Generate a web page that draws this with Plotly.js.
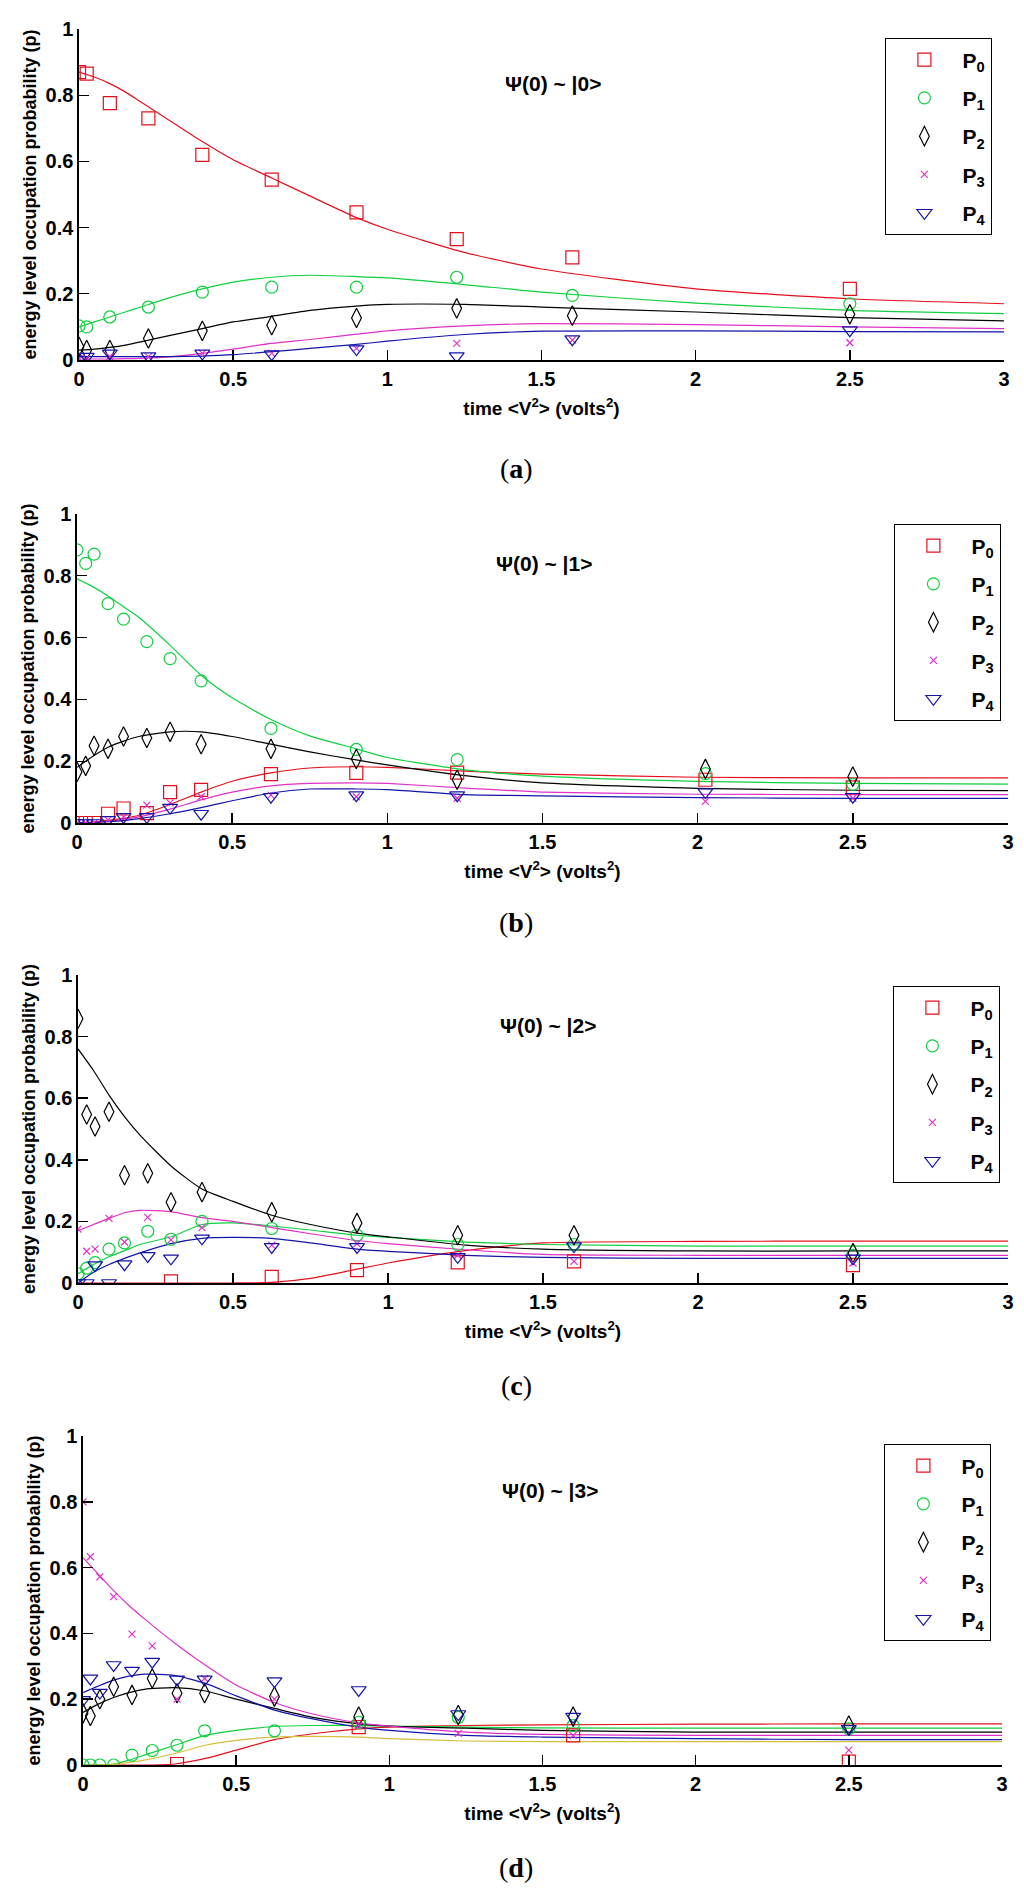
<!DOCTYPE html>
<html>
<head>
<meta charset="utf-8">
<script src="https://cdn.plot.ly/plotly-3.0.1.min.js"></script>
<style>
  html, body { margin: 0; padding: 0; background: #fff; }
  #chart { width: 1024px; height: 1898px; }
</style>
</head>
<body>
<div id="chart"></div>
<script>
// level names and colours
const levelNames = ['P<sub>0</sub>', 'P<sub>1</sub>', 'P<sub>2</sub>', 'P<sub>3</sub>', 'P<sub>4</sub>'];
const panelTags = ['a', 'b', 'c', 'd'];
const stateLabels = ['Ψ(0) ~ |0&gt;', 'Ψ(0) ~ |1&gt;', 'Ψ(0) ~ |2&gt;', 'Ψ(0) ~ |3&gt;'];

// fitted curves are sampled at these times
const curveX = [0, 0.05, 0.1, 0.15, 0.2, 0.3, 0.4, 0.5, 0.625, 0.75, 0.9, 1.0, 1.25, 1.5, 2, 2.5, 3];

// panel (a)  Psi(0) ~ |0>
const xA = [0, 0.025, 0.1, 0.225, 0.4, 0.625, 0.9, 1.225, 1.6, 2.5];
const p0A = [0.87, 0.865, 0.776, 0.73, 0.62, 0.545, 0.446, 0.365, 0.31, 0.215];
const p1A = [0.103, 0.10, 0.13, 0.16, 0.205, 0.22, 0.22, 0.25, 0.195, 0.17];
const p2A = [0.04, 0.03, 0.03, 0.065, 0.088, 0.105, 0.127, 0.156, 0.134, 0.138];
const p3A = [0.005, 0.005, 0.01, 0.01, 0.02, 0.02, 0.035, 0.05, 0.06, 0.052];
const p4A = [0.0, 0.01, 0.02, 0.012, 0.02, 0.018, 0.033, 0.012, 0.063, 0.09];
const fit0A = [0.87, 0.855, 0.835, 0.81, 0.78, 0.72, 0.66, 0.605, 0.55, 0.495, 0.43, 0.395, 0.325, 0.275, 0.215, 0.185, 0.17];
const fit1A = [0.1, 0.115, 0.13, 0.145, 0.16, 0.19, 0.215, 0.235, 0.25, 0.256, 0.252, 0.248, 0.228, 0.205, 0.172, 0.15, 0.14];
const fit2A = [0.03, 0.033, 0.038, 0.045, 0.055, 0.075, 0.095, 0.115, 0.132, 0.15, 0.163, 0.168, 0.168, 0.16, 0.145, 0.128, 0.118];
const fit3A = [0.003, 0.003, 0.003, 0.004, 0.005, 0.01, 0.02, 0.033, 0.05, 0.062, 0.078, 0.088, 0.103, 0.11, 0.107, 0.1, 0.095];
const fit4A = [0.01, 0.01, 0.01, 0.01, 0.01, 0.01, 0.012, 0.016, 0.025, 0.035, 0.047, 0.057, 0.077, 0.087, 0.088, 0.086, 0.085];

// panel (b)  Psi(0) ~ |1>
const xB = [0, 0.028, 0.055, 0.1, 0.15, 0.225, 0.3, 0.4, 0.625, 0.9, 1.225, 2.025, 2.5];
const p0B = [0, 0, 0, 0.03, 0.047, 0.032, 0.10, 0.107, 0.158, 0.162, 0.163, 0.14, 0.115];
const p1B = [0.884, 0.84, 0.87, 0.71, 0.66, 0.587, 0.532, 0.46, 0.306, 0.238, 0.205, 0.16, 0.125];
const p2B = [0.165, 0.185, 0.25, 0.24, 0.28, 0.275, 0.295, 0.255, 0.24, 0.207, 0.14, 0.175, 0.15];
const p3B = [0, 0, 0, 0.01, 0.02, 0.058, 0.065, 0.085, 0.09, 0.085, 0.08, 0.07, 0.08];
const p4B = [0, 0, 0, 0.01, 0.02, 0.02, 0.05, 0.03, 0.085, 0.09, 0.09, 0.10, 0.085];
const fit0B = [0, 0.003, 0.008, 0.015, 0.025, 0.06, 0.1, 0.135, 0.162, 0.178, 0.182, 0.18, 0.168, 0.158, 0.148, 0.146, 0.146];
const fit1B = [0.79, 0.765, 0.735, 0.7, 0.665, 0.575, 0.478, 0.405, 0.335, 0.282, 0.24, 0.212, 0.172, 0.152, 0.135, 0.128, 0.126];
const fit2B = [0.18, 0.215, 0.245, 0.265, 0.28, 0.295, 0.295, 0.28, 0.255, 0.23, 0.204, 0.188, 0.153, 0.13, 0.112, 0.106, 0.105];
const fit3B = [0, 0.002, 0.006, 0.012, 0.02, 0.045, 0.075, 0.1, 0.12, 0.128, 0.13, 0.128, 0.113, 0.1, 0.093, 0.092, 0.092];
const fit4B = [0, 0.001, 0.004, 0.008, 0.014, 0.03, 0.05, 0.072, 0.097, 0.11, 0.11, 0.108, 0.092, 0.088, 0.082, 0.08, 0.08];

// panel (c)  Psi(0) ~ |2>
const xC = [0, 0.028, 0.055, 0.1, 0.15, 0.225, 0.3, 0.4, 0.625, 0.9, 1.225, 1.6, 2.5];
const p0C = [null, null, null, null, null, null, 0.005, null, 0.02, 0.042, 0.067, 0.07, 0.058];
const p1C = [0.03, 0.048, 0.066, 0.11, 0.13, 0.168, 0.142, 0.2, 0.177, 0.155, 0.125, 0.125, 0.09];
const p2C = [0.858, 0.547, 0.508, 0.556, 0.35, 0.356, 0.262, 0.295, 0.23, 0.195, 0.155, 0.155, 0.097];
const p3C = [0.175, 0.103, 0.11, 0.21, 0.133, 0.213, 0.14, 0.18, 0.123, 0.128, 0.09, 0.07, 0.065];
const p4C = [0, 0, 0.058, 0, 0.061, 0.088, 0.08, 0.145, 0.117, 0.117, 0.085, 0.12, 0.08];
const fit0C = [0, 0, 0, 0, 0, 0, 0, 0, 0.002, 0.015, 0.045, 0.065, 0.105, 0.13, 0.135, 0.136, 0.136];
const fit1C = [0.03, 0.06, 0.085, 0.105, 0.125, 0.15, 0.19, 0.195, 0.185, 0.172, 0.155, 0.148, 0.133, 0.125, 0.12, 0.12, 0.12];
const fit2C = [0.76, 0.69, 0.61, 0.54, 0.48, 0.38, 0.305, 0.265, 0.22, 0.19, 0.162, 0.15, 0.123, 0.11, 0.104, 0.104, 0.104];
const fit3C = [0.17, 0.19, 0.21, 0.228, 0.236, 0.232, 0.212, 0.2, 0.18, 0.16, 0.138, 0.128, 0.108, 0.093, 0.09, 0.09, 0.09];
const fit4C = [0, 0.035, 0.06, 0.08, 0.098, 0.128, 0.145, 0.148, 0.145, 0.13, 0.11, 0.103, 0.09, 0.083, 0.08, 0.08, 0.08];

// panel (d)  Psi(0) ~ |3>
const xD = [0, 0.024, 0.055, 0.1, 0.16, 0.226, 0.307, 0.397, 0.625, 0.9, 1.225, 1.6, 2.5];
const p0D = [null, null, null, null, null, null, 0.003, null, null, 0.115, null, 0.09, 0.01];
const p1D = [0, 0, 0, 0, 0.03, 0.044, 0.06, 0.104, 0.104, 0.13, 0.145, 0.12, 0.11];
const p2D = [0.157, 0.149, 0.2, 0.238, 0.213, 0.263, 0.218, 0.218, 0.208, 0.147, 0.152, 0.147, 0.12];
const p3D = [0.80, 0.633, 0.572, 0.512, 0.398, 0.362, 0.2, 0.263, 0.2, 0.12, 0.096, 0.09, 0.045];
const p4D = [0.198, 0.263, 0.22, 0.304, 0.287, 0.314, 0.26, 0.26, 0.255, 0.228, 0.155, 0.147, 0.11];
const fit0D = [0, 0, 0, 0, 0, 0.003, 0.02, 0.045, 0.077, 0.095, 0.11, 0.115, 0.12, 0.122, 0.124, 0.125, 0.125];
const fit1D = [0, 0, 0.003, 0.015, 0.03, 0.06, 0.09, 0.105, 0.117, 0.12, 0.12, 0.118, 0.115, 0.113, 0.112, 0.112, 0.112];
const fit2D = [0.16, 0.185, 0.205, 0.22, 0.23, 0.235, 0.225, 0.2, 0.172, 0.145, 0.125, 0.118, 0.112, 0.105, 0.1, 0.1, 0.1];
const fit3D = [0.63, 0.58, 0.53, 0.485, 0.445, 0.37, 0.303, 0.243, 0.19, 0.155, 0.128, 0.118, 0.1, 0.093, 0.09, 0.09, 0.09];
const fit4D = [0.22, 0.24, 0.258, 0.27, 0.276, 0.272, 0.248, 0.21, 0.167, 0.14, 0.115, 0.105, 0.09, 0.085, 0.08, 0.077, 0.077];
const fitExtraD = [0, 0, 0.002, 0.008, 0.015, 0.035, 0.06, 0.075, 0.085, 0.087, 0.085, 0.08, 0.073, 0.071, 0.071, 0.071, 0.071];

const colors = ['#e3101c', '#10d040', '#000000', '#e030c8', '#1414a8'];
const extraColor = '#d6bf3a';
const symbols = ['square-open', 'circle-open', 'diamond-tall-open', 'x-thin-open', 'triangle-down-open'];
const sizes = [13, 12, 14, 7, 13];

const panels = [
    { x: xA, p: [p0A, p1A, p2A, p3A, p4A], fit: [fit0A, fit1A, fit2A, fit3A, fit4A] },
    { x: xB, p: [p0B, p1B, p2B, p3B, p4B], fit: [fit0B, fit1B, fit2B, fit3B, fit4B] },
    { x: xC, p: [p0C, p1C, p2C, p3C, p4C], fit: [fit0C, fit1C, fit2C, fit3C, fit4C] },
    { x: xD, p: [p0D, p1D, p2D, p3D, p4D], fit: [fit0D, fit1D, fit2D, fit3D, fit4D], extra: fitExtraD }
];

// pixel boxes of the four plot areas: [left, right, top, bottom]
const W = 1024, H = 1898;
const boxes = [
    [79, 1004, 29, 360],
    [77, 1008, 514, 823],
    [78, 1008, 975, 1283],
    [83, 1002, 1436, 1765]
];
const legendPos = [[885, 38], [894, 524], [893, 986], [884, 1444]];
const statePos = [[503, 83], [494, 563], [498, 1025], [500, 1490]];
const tagY = [468, 923, 1385, 1867];

const sansBold = { family: 'Liberation Sans, Arial, sans-serif', size: 20, color: '#000', weight: 'bold' };

const traces = [];
const layout = {
    width: W, height: H,
    margin: { l: 0, r: 0, t: 0, b: 0 },
    paper_bgcolor: '#fff',
    plot_bgcolor: 'rgba(0,0,0,0)',
    showlegend: true,
    annotations: []
};

panels.forEach((pan, i) => {
    const n = i === 0 ? '' : String(i + 1);
    const xa = 'x' + n, ya = 'y' + n;
    const leg = 'legend' + n;

    // fitted curves
    pan.fit.forEach((f, k) => {
        traces.push({
            type: 'scatter', mode: 'lines', x: curveX, y: f,
            xaxis: xa, yaxis: ya, showlegend: false, hoverinfo: 'skip',
            line: { color: colors[k], width: 1.2, shape: 'spline', smoothing: 0.6 }
        });
    });
    if (pan.extra) {
        traces.push({
            type: 'scatter', mode: 'lines', x: curveX, y: pan.extra,
            xaxis: xa, yaxis: ya, showlegend: false, hoverinfo: 'skip',
            line: { color: extraColor, width: 1.2, shape: 'spline', smoothing: 0.6 }
        });
    }
    // measured points
    pan.p.forEach((vals, k) => {
        traces.push({
            type: 'scatter', mode: 'markers', x: pan.x, y: vals,
            xaxis: xa, yaxis: ya, name: levelNames[k],
            legend: leg, legendgroup: 'g' + i + k,
            marker: { symbol: symbols[k], size: sizes[k], color: colors[k], line: { color: colors[k], width: 1.2 } }
        });
    });

    const b = boxes[i];
    layout['xaxis' + n] = {
        domain: [b[0] / W, b[1] / W], anchor: ya,
        range: [0, 3], tickvals: [0, 0.5, 1, 1.5, 2, 2.5, 3],
        showline: true, linecolor: '#000', linewidth: 1.6,
        ticks: 'inside', ticklen: 10, tickwidth: 1.4, tickcolor: '#000',
        showgrid: false, zeroline: false, fixedrange: true,
        tickfont: sansBold,
        title: { text: 'time &lt;V<sup>2</sup>&gt; (volts<sup>2</sup>)', font: { ...sansBold, size: 19 }, standoff: 13 }
    };
    layout['yaxis' + n] = {
        domain: [1 - b[3] / H, 1 - b[2] / H], anchor: xa,
        range: [0, 1], dtick: 0.2,
        showline: true, linecolor: '#000', linewidth: 1.6,
        ticks: 'inside', ticklen: 10, tickwidth: 1.4, tickcolor: '#000',
        showgrid: false, zeroline: false, fixedrange: true,
        tickfont: sansBold,
        title: { text: 'energy level occupation probability (p)', font: { ...sansBold, size: 18 }, standoff: 4 }
    };
    layout[leg] = {
        x: legendPos[i][0] / W, y: 1 - legendPos[i][1] / H,
        xanchor: 'left', yanchor: 'top',
        bgcolor: '#fff', bordercolor: '#000', borderwidth: 1.4,
        font: { ...sansBold, size: 21 },
        traceorder: 'grouped', tracegroupgap: 8, itemwidth: 66
    };

    layout.annotations.push({
        xref: 'paper', yref: 'paper',
        x: statePos[i][0] / W, y: 1 - statePos[i][1] / H,
        xanchor: 'left', yanchor: 'middle', showarrow: false,
        text: stateLabels[i], font: { ...sansBold, size: 21 }
    });
    layout.annotations.push({
        xref: 'paper', yref: 'paper',
        x: 516 / W, y: 1 - tagY[i] / H,
        xanchor: 'center', yanchor: 'middle', showarrow: false,
        text: '(<b>' + panelTags[i] + '</b>)',
        font: { family: 'Liberation Serif, Times New Roman, serif', size: 28, color: '#000' }
    });
});

Plotly.newPlot('chart', traces, layout, { staticPlot: true, displayModeBar: false });
</script>
</body>
</html>
